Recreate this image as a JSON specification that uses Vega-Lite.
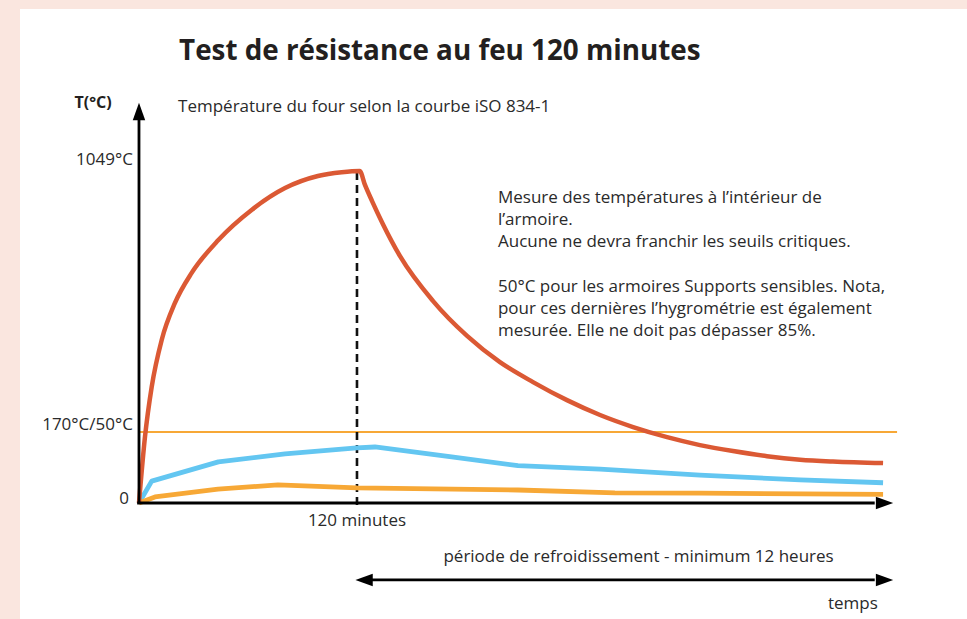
{
  "$schema": "https://vega.github.io/schema/vega-lite/v6.json",
  "width": 967,
  "height": 619,
  "autosize": {"type": "fit", "contains": "padding"},
  "padding": {"left": 20, "top": 9, "right": 0, "bottom": 0},
  "background": "#fae6df",
  "config": {"view": {"fill": "white", "stroke": null}},
  "datasets": {
    "curves": [
      {"s": "four", "x": 0, "t": 0},
      {"s": "four", "x": 3.3, "t": 209},
      {"s": "four", "x": 7.0, "t": 367},
      {"s": "four", "x": 12.5, "t": 515},
      {"s": "four", "x": 19.8, "t": 632},
      {"s": "four", "x": 29.0, "t": 727},
      {"s": "four", "x": 43.7, "t": 831},
      {"s": "four", "x": 62.0, "t": 926},
      {"s": "four", "x": 80.4, "t": 995},
      {"s": "four", "x": 98.5, "t": 1033},
      {"s": "four", "x": 111.6, "t": 1045},
      {"s": "four", "x": 121.5, "t": 1049},
      {"s": "four", "x": 124.4, "t": 1005},
      {"s": "four", "x": 128.3, "t": 954},
      {"s": "four", "x": 134.3, "t": 881},
      {"s": "four", "x": 143.7, "t": 780},
      {"s": "four", "x": 161.9, "t": 638},
      {"s": "four", "x": 180.6, "t": 528},
      {"s": "four", "x": 198.7, "t": 445},
      {"s": "four", "x": 216.9, "t": 382},
      {"s": "four", "x": 235.6, "t": 325},
      {"s": "four", "x": 253.8, "t": 278},
      {"s": "four", "x": 272.0, "t": 240},
      {"s": "four", "x": 290.7, "t": 208},
      {"s": "four", "x": 308.8, "t": 183},
      {"s": "four", "x": 327.0, "t": 164},
      {"s": "four", "x": 345.7, "t": 148},
      {"s": "four", "x": 363.9, "t": 137},
      {"s": "four", "x": 382.0, "t": 131},
      {"s": "four", "x": 409.6, "t": 126},
      {"s": "supports", "x": 0, "t": 0},
      {"s": "supports", "x": 7.0, "t": 69},
      {"s": "supports", "x": 43.7, "t": 130},
      {"s": "supports", "x": 80.4, "t": 155},
      {"s": "supports", "x": 119.8, "t": 174},
      {"s": "supports", "x": 129.9, "t": 177},
      {"s": "supports", "x": 172.1, "t": 146},
      {"s": "supports", "x": 208.6, "t": 118},
      {"s": "supports", "x": 253.8, "t": 107},
      {"s": "supports", "x": 308.8, "t": 88},
      {"s": "supports", "x": 363.9, "t": 73},
      {"s": "supports", "x": 409.6, "t": 64},
      {"s": "armoire", "x": 0, "t": 0},
      {"s": "armoire", "x": 8.8, "t": 19},
      {"s": "armoire", "x": 43.5, "t": 44},
      {"s": "armoire", "x": 76.5, "t": 57},
      {"s": "armoire", "x": 120, "t": 48},
      {"s": "armoire", "x": 208.6, "t": 41},
      {"s": "armoire", "x": 262, "t": 32},
      {"s": "armoire", "x": 308.8, "t": 31},
      {"s": "armoire", "x": 409.6, "t": 27}
    ],
    "axes": [
      {"x": 0, "x2": 0, "y": -2, "y2": 1216},
      {"x": -1, "x2": 405, "y": 0, "y2": 0},
      {"x": 124, "x2": 405, "y": -243, "y2": -243}
    ],
    "arrows": [
      {"x": 0, "y": 1237, "dir": "up"},
      {"x": 410.4, "y": 0, "dir": "right"},
      {"x": 410.4, "y": -243, "dir": "right"},
      {"x": 123.9, "y": -243, "dir": "left"}
    ],
    "dashed": [{"x": 120, "y": 1046, "y2": -13}],
    "seuil": [{"x": 0, "x2": 417.3, "y": 224.3}],
    "labels": [
      {"x": 21.5, "y": 1251, "text": "Température du four selon la courbe iSO 834-1", "a": "left"},
      {"x": -3.3, "y": 1084, "text": "1049°C", "a": "right"},
      {"x": -3.3, "y": 246, "text": "170°C/50°C", "a": "right"},
      {"x": -5.5, "y": 12.6, "text": "0", "a": "right"},
      {"x": 120, "y": -57, "text": "120 minutes", "a": "center"},
      {"x": 275, "y": -171, "text": "période de refroidissement - minimum 12 heures", "a": "center"},
      {"x": 393, "y": -319, "text": "temps", "a": "center"},
      {"x": 197.6, "y": 965, "text": "Mesure des températures à l’intérieur de", "a": "left"},
      {"x": 197.6, "y": 895, "text": "l’armoire.", "a": "left"},
      {"x": 197.6, "y": 825, "text": "Aucune ne devra franchir les seuils critiques.", "a": "left"},
      {"x": 197.6, "y": 682, "text": "50°C pour les armoires Supports sensibles. Nota,", "a": "left"},
      {"x": 197.6, "y": 613, "text": "pour ces dernières l’hygrométrie est également", "a": "left"},
      {"x": 197.6, "y": 543, "text": "mesurée. Elle ne doit pas dépasser 85%.", "a": "left"}
    ],
    "bold": [
      {"x": 165.6, "y": 1425, "text": "Test de résistance au feu 120 minutes", "kind": "title"},
      {"x": -25.3, "y": 1264, "text": "T(°C)", "kind": "axis"}
    ]
  },
  "encoding": {
    "x": {"field": "x", "type": "quantitative", "scale": {"domain": [-65.5, 455.8], "nice": false, "zero": false}, "axis": null},
    "y": {"field": "y", "type": "quantitative", "scale": {"domain": [-366.5, 1560.8], "nice": false, "zero": false}, "axis": null}
  },
  "layer": [
    {
      "data": {"name": "seuil"},
      "mark": {"type": "rule", "color": "#f7a836", "strokeWidth": 2},
      "encoding": {"x2": {"field": "x2"}}
    },
    {
      "data": {"name": "dashed"},
      "mark": {"type": "rule", "color": "#111", "strokeWidth": 2.6, "strokeDash": [8, 5]},
      "encoding": {"y2": {"field": "y2"}}
    },
    {
      "data": {"name": "curves"},
      "transform": [{"filter": "datum.s !== 'four'"}],
      "mark": {"type": "line", "strokeWidth": 4.8, "strokeJoin": "round"},
      "encoding": {
        "y": {"field": "t", "type": "quantitative"},
        "color": {"field": "s", "type": "nominal", "scale": {"domain": ["four", "supports", "armoire"], "range": ["#db5934", "#63c6f1", "#f7a836"]}, "legend": null}
      }
    },
    {
      "data": {"name": "curves"},
      "transform": [{"filter": "datum.s === 'four'"}],
      "mark": {"type": "line", "strokeWidth": 4.5, "strokeJoin": "round", "interpolate": "monotone"},
      "encoding": {
        "y": {"field": "t", "type": "quantitative"},
        "color": {"field": "s", "type": "nominal", "scale": {"domain": ["four", "supports", "armoire"], "range": ["#db5934", "#63c6f1", "#f7a836"]}, "legend": null}
      }
    },
    {
      "data": {"name": "axes"},
      "mark": {"type": "rule", "color": "#000", "strokeWidth": 2.8},
      "encoding": {"x2": {"field": "x2"}, "y2": {"field": "y2"}}
    },
    {
      "data": {"name": "arrows"},
      "mark": {"type": "point", "filled": true, "color": "#000", "opacity": 1, "size": 300},
      "encoding": {
        "shape": {"field": "dir", "type": "nominal", "scale": {"domain": ["up", "right", "left"], "range": ["M0,-1L0.72,1L-0.72,1Z", "M1,0L-1,-0.72L-1,0.72Z", "M-1,0L1,-0.72L1,0.72Z"]}, "legend": null}
      }
    },
    {
      "data": {"name": "labels"},
      "transform": [{"filter": "datum.a === 'left'"}],
      "mark": {"type": "text", "font": "Open Sans", "fontSize": 17, "color": "#2a2a2a", "baseline": "middle", "align": "left"},
      "encoding": {"text": {"field": "text"}}
    },
    {
      "data": {"name": "labels"},
      "transform": [{"filter": "datum.a === 'right'"}],
      "mark": {"type": "text", "font": "Open Sans", "fontSize": 17, "color": "#2a2a2a", "baseline": "middle", "align": "right"},
      "encoding": {"text": {"field": "text"}}
    },
    {
      "data": {"name": "labels"},
      "transform": [{"filter": "datum.a === 'center'"}],
      "mark": {"type": "text", "font": "Open Sans", "fontSize": 17, "color": "#2a2a2a", "baseline": "middle", "align": "center"},
      "encoding": {"text": {"field": "text"}}
    },
    {
      "data": {"name": "bold"},
      "transform": [{"filter": "datum.kind === 'title'"}],
      "mark": {"type": "text", "font": "Open Sans", "fontSize": 27.8, "fontWeight": "bold", "color": "#231f20", "baseline": "middle", "align": "center"},
      "encoding": {"text": {"field": "text"}}
    },
    {
      "data": {"name": "bold"},
      "transform": [{"filter": "datum.kind === 'axis'"}],
      "mark": {"type": "text", "font": "Open Sans", "fontSize": 16, "fontWeight": "bold", "color": "#231f20", "baseline": "middle", "align": "center"},
      "encoding": {"text": {"field": "text"}}
    }
  ]
}
